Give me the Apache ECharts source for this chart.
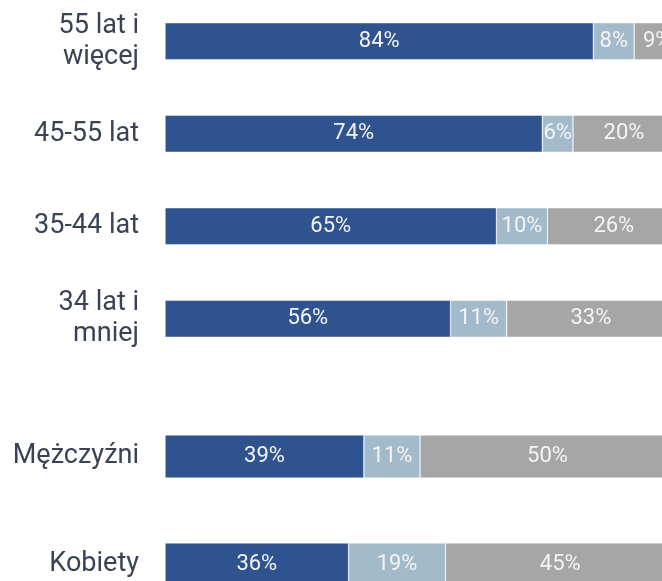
<!DOCTYPE html>
<html>
<head>
<meta charset="utf-8">
<script src="https://cdn.jsdelivr.net/npm/echarts@6/dist/echarts.min.js"></script>
<style>html,body{margin:0;padding:0;background:#fff}#c{width:662px;height:581px}</style>
</head>
<body>
<div id="c"></div>
<script>
const categoriesTop = ['55 lat i\nwięcej', '45-55 lat', '35-44 lat', '34 lat i\nmniej'];
const categoriesBottom = ['Mężczyźni', 'Kobiety'];
const darkTop = [84, 74, 65, 56];
const lightTop = [8, 6, 10, 11];
const grayTop = [9, 20, 26, 33];
const darkBottom = [39, 36];
const lightBottom = [11, 19];
const grayBottom = [50, 45];

const colors = ['#2F538F', '#A2BACA', '#A6A6A6'];
const font = 'Roboto';

function mkSeries(data, idx, colorIdx, stack) {
  return {
    type: 'bar',
    stack: stack,
    xAxisIndex: idx,
    yAxisIndex: idx,
    data: data,
    barCategoryGap: '60%',
    itemStyle: { color: colors[colorIdx], borderColor: 'rgba(255,255,255,0.7)', borderWidth: 0.6 },
    label: {
      show: true,
      position: 'inside',
      color: '#F4F4F4',
      fontFamily: font,
      fontSize: 22,
      padding: [3, 0, 0, 0],
      formatter: '{c}%'
    },
    clip: false,
    silent: true
  };
}

const yLabel = {
  color: '#3A4254',
  fontFamily: font,
  fontSize: 27,
  lineHeight: 31,
  margin: 26,
  padding: [5, 0, 0, 0],
  align: 'right'
};

const chart = echarts.init(document.getElementById('c'), null, { renderer: 'canvas' });
chart.setOption({
  animation: false,
  grid: [
    { left: 165, width: 510, top: -5, height: 370, outerBoundsMode: 'none', containLabel: false },
    { left: 165, width: 510, top: 402.5, height: 216, outerBoundsMode: 'none', containLabel: false }
  ],
  xAxis: [
    { gridIndex: 0, type: 'value', min: 0, max: 100, show: false },
    { gridIndex: 1, type: 'value', min: 0, max: 100, show: false }
  ],
  yAxis: [
    { gridIndex: 0, type: 'category', inverse: true, data: categoriesTop,
      axisLine: { show: false }, axisTick: { show: false }, splitLine: { show: false }, axisLabel: yLabel },
    { gridIndex: 1, type: 'category', inverse: true, data: categoriesBottom,
      axisLine: { show: false }, axisTick: { show: false }, splitLine: { show: false }, axisLabel: yLabel }
  ],
  series: [
    mkSeries(darkTop, 0, 0, 'top'),
    mkSeries(lightTop, 0, 1, 'top'),
    mkSeries(grayTop, 0, 2, 'top'),
    mkSeries(darkBottom, 1, 0, 'bottom'),
    mkSeries(lightBottom, 1, 1, 'bottom'),
    mkSeries(grayBottom, 1, 2, 'bottom')
  ]
});
</script>
</body>
</html>
